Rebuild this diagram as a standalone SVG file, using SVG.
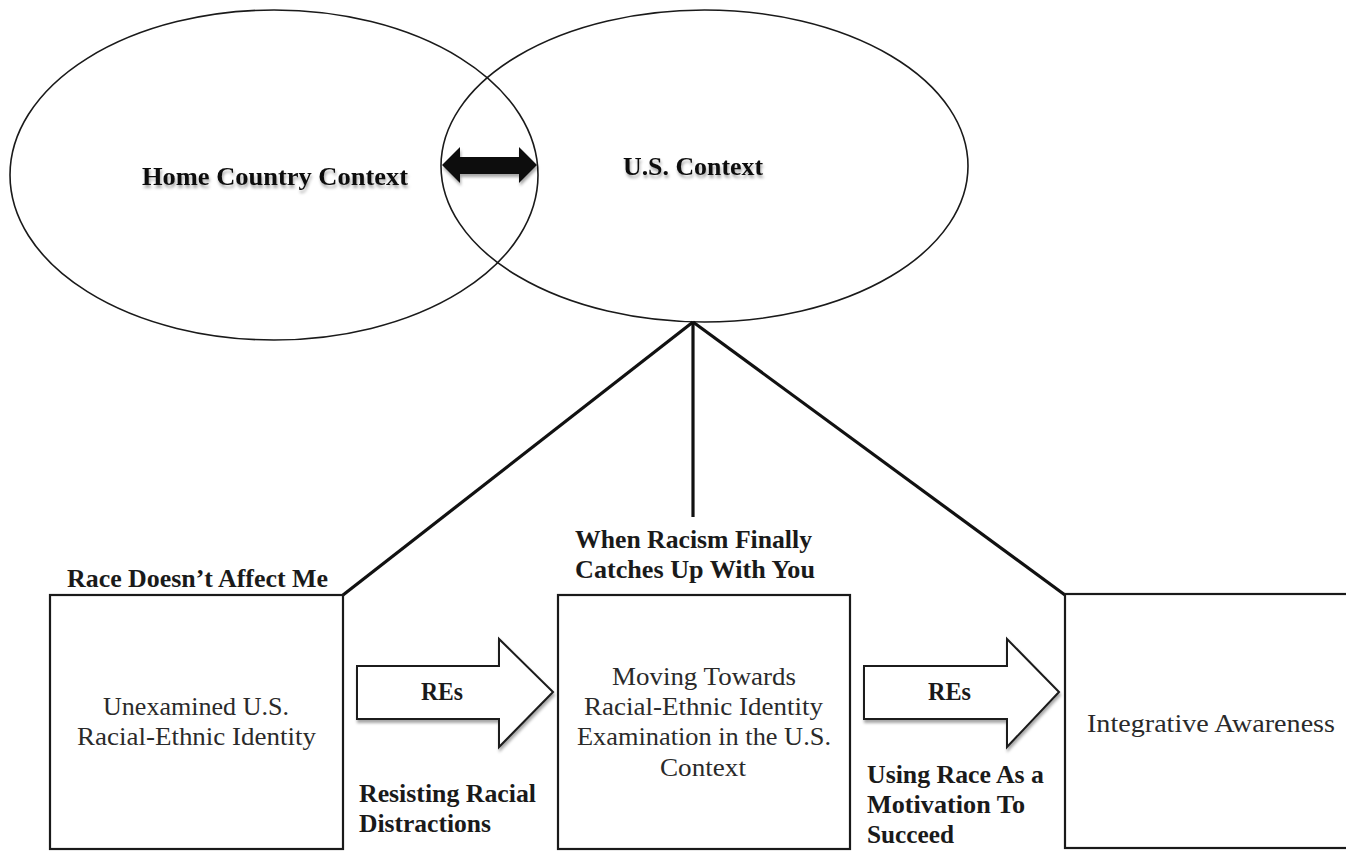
<svg xmlns="http://www.w3.org/2000/svg" width="1346" height="852" viewBox="0 0 1346 852">
<style>
.bg{fill:#ffffff}
.ell{fill:none;stroke:#1a1a1a;stroke-width:1.6}
.box{fill:#ffffff;stroke:#1a1a1a;stroke-width:2.2}
.link{stroke:#111;stroke-width:3.2;fill:none;stroke-linecap:butt}
.blk{fill:#ffffff;stroke:#1a1a1a;stroke-width:2}
.t{font-family:"Liberation Serif","Times New Roman",serif;fill:#1a1a1a}
.b{font-weight:bold;font-size:25px}
.r{font-size:26px;fill:#2a2a2a}
.h{font-weight:bold;font-size:26px;fill:#111}
</style>
<defs>
<filter id="sh" x="-20%" y="-40%" width="140%" height="180%">
<feDropShadow dx="1" dy="3" stdDeviation="1.5" flood-color="#000" flood-opacity="0.35"/>
</filter>
</defs>
<rect class="bg" x="0" y="0" width="1346" height="852"/>

<g id="home-country">
<ellipse class="ell" cx="274" cy="175" rx="264" ry="165"/>
<text class="t h" x="142" y="185" textLength="266" lengthAdjust="spacingAndGlyphs" filter="url(#sh)">Home Country Context</text>
</g>

<g id="us-context">
<ellipse class="ell" cx="704.5" cy="166" rx="263.5" ry="156"/>
<text class="t h" x="623" y="175" textLength="140" lengthAdjust="spacingAndGlyphs" filter="url(#sh)">U.S. Context</text>
</g>

<g id="connectors">
<polygon points="442,165 460,147 460,157 519,157 519,147 537,165 519,183 519,174 460,174 460,183" fill="#111" filter="url(#sh)"/>
<line class="link" x1="693" y1="322" x2="343" y2="595"/>
<line class="link" x1="693" y1="322" x2="693" y2="517"/>
<line class="link" x1="693" y1="322" x2="1065" y2="595"/>
<g id="arrow-1">
<polygon class="blk" points="357,666 499,666 499,639 553,692 499,747 499,719 357,719" filter="url(#sh)"/>
<text class="t b" x="421" y="700" textLength="42" lengthAdjust="spacingAndGlyphs">REs</text>
</g>
<g id="arrow-2">
<polygon class="blk" points="864,666 1007,666 1007,639 1059,692 1007,747 1007,719 864,719" filter="url(#sh)"/>
<text class="t b" x="928" y="700" textLength="43" lengthAdjust="spacingAndGlyphs">REs</text>
</g>
</g>

<g id="stage-1">
<rect class="box" x="50" y="595" width="293" height="254"/>
<text class="t b" x="67" y="587" textLength="261" lengthAdjust="spacingAndGlyphs">Race Doesn’t Affect Me</text>
<text class="t r" x="103" y="715" textLength="186" lengthAdjust="spacingAndGlyphs">Unexamined U.S.</text>
<text class="t r" x="77" y="745" textLength="239" lengthAdjust="spacingAndGlyphs">Racial-Ethnic Identity</text>
</g>

<g id="label-resisting">
<text class="t b" x="359" y="802" textLength="177" lengthAdjust="spacingAndGlyphs">Resisting Racial</text>
<text class="t b" x="359" y="832" textLength="132" lengthAdjust="spacingAndGlyphs">Distractions</text>
</g>

<g id="stage-2">
<rect class="box" x="558" y="595" width="292" height="254"/>
<text class="t b" x="575" y="548" textLength="237" lengthAdjust="spacingAndGlyphs">When Racism Finally</text>
<text class="t b" x="575" y="578" textLength="240" lengthAdjust="spacingAndGlyphs">Catches Up With You</text>
<text class="t r" x="612" y="685" textLength="184" lengthAdjust="spacingAndGlyphs">Moving Towards</text>
<text class="t r" x="584" y="715" textLength="239" lengthAdjust="spacingAndGlyphs">Racial-Ethnic Identity</text>
<text class="t r" x="577" y="745" textLength="254" lengthAdjust="spacingAndGlyphs">Examination in the U.S.</text>
<text class="t r" x="660" y="776" textLength="86" lengthAdjust="spacingAndGlyphs">Context</text>
</g>

<g id="label-using-race">
<text class="t b" x="867" y="783" textLength="177" lengthAdjust="spacingAndGlyphs">Using Race As a</text>
<text class="t b" x="867" y="813" textLength="158" lengthAdjust="spacingAndGlyphs">Motivation To</text>
<text class="t b" x="867" y="843" textLength="87" lengthAdjust="spacingAndGlyphs">Succeed</text>
</g>

<g id="stage-3">
<rect class="box" x="1065" y="594" width="300" height="254"/>
<text class="t r" x="1087" y="732" textLength="248" lengthAdjust="spacingAndGlyphs">Integrative Awareness</text>
</g>
</svg>
